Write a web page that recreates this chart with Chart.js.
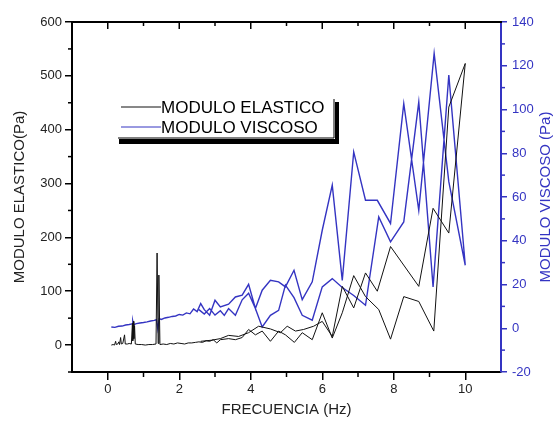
<!DOCTYPE html>
<html>
<head>
<meta charset="utf-8">
<script src="https://cdn.jsdelivr.net/npm/chart.js@4.4.1/dist/chart.umd.min.js"></script>
<style>
  body { margin: 0; background: #fff; }
  #wrap { width: 555px; height: 422px; position: relative; }
</style>
</head>
<body>
<div id="wrap"><canvas id="chart"></canvas></div>
<script>
// ---- data ----
const elasticX = [0.10, 0.15, 0.19, 0.22, 0.24, 0.28, 0.31, 0.33, 0.36, 0.38, 0.42, 0.47, 0.49, 0.55, 0.60, 0.66,
  0.69, 0.70, 0.72, 0.73, 0.75, 0.77, 0.85, 0.95, 1.05, 1.15, 1.25, 1.35, 1.38, 1.41, 1.43, 1.46, 1.55, 1.65,
  1.75, 1.85, 1.95, 2.05, 2.15, 2.25, 2.35, 2.45, 2.55, 2.65, 2.75, 2.85, 2.95, 3.05, 3.15, 3.38, 3.57, 3.76,
  3.94, 4.13, 4.32, 4.55, 4.78, 4.97, 5.22, 5.44, 5.72, 6.00, 6.28, 6.56, 6.88, 7.21, 7.58, 7.91, 8.28, 8.70,
  9.12, 9.54, 10.0,
  9.54, 9.10, 8.70, 7.91, 7.54, 7.21, 6.88, 6.56, 6.28, 6.00, 5.76, 5.48, 5.25, 5.02, 4.83, 4.55, 4.22, 3.94,
  3.66, 3.38, 3.15, 2.90, 2.60];
const elasticY = [0, 1, 0, 7, 1, 2, 6, 1, 14, 2, 3, 19, 2, 2, 3, 2,
  40, 8, 44, 12, 36, 2, 1, 1, 0, 1, 1, 2, 171, 3, 130, 1, 2, 1,
  3, 2, 4, 3, 2, 4, 4, 5, 6, 5, 8, 7, 10, 4, 10, 12, 10, 14,
  29, 19, 26, 7, 26, 19, 5, 23, 10, 60, 13, 60, 129, 90, 66, 11, 90, 81,
  26, 442, 523,
  208, 254, 109, 183, 100, 134, 69, 109, 16, 44, 35, 29, 26, 35, 23, 30, 35, 23,
  16, 18, 12, 9, 7];

const viscoX = [0.10, 0.20, 0.30, 0.40, 0.50, 0.60, 0.68, 0.70, 0.72, 0.80, 0.90, 1.00, 1.10, 1.20, 1.30, 1.36,
  1.40, 1.44, 1.50, 1.60, 1.70, 1.80, 1.90, 2.00, 2.10, 2.20, 2.30, 2.40, 2.50, 2.60, 2.70, 2.85, 3.00, 3.15,
  3.38, 3.57, 3.76, 3.94, 4.13, 4.32, 4.55, 4.78, 4.97, 5.21, 5.44, 5.72, 6.00, 6.28, 6.56, 6.88, 7.21, 7.54,
  7.91, 8.28, 8.70, 9.13, 9.54, 10.0,
  9.54, 9.10, 8.70, 8.28, 7.91, 7.58, 7.21, 6.88, 6.56, 6.28, 6.00, 5.72, 5.44, 5.21, 4.97, 4.78, 4.55, 4.32,
  4.13, 3.94, 3.76, 3.57, 3.38, 3.26, 3.15, 3.00, 2.85, 2.70, 2.55];
const viscoY = [0.6, 0.4, 0.9, 1.0, 1.5, 1.7, 2.0, 3.2, 1.6, 2.1, 2.4, 2.6, 2.9, 3.3, 3.6, 3.9,
  -0.3, 4.4, 4.0, 4.7, 5.0, 5.4, 5.6, 6.3, 6.0, 7.0, 6.6, 8.8, 7.6, 11.3, 8.5, 6.0, 12.8, 9.7,
  11, 14.3, 15.1, 20.1, 9, 17.4, 21.9, 21.2, 18.9, 26.5, 13.1, 21.2, 44.8, 65.4, 21.9, 80.6, 58.5, 58.5,
  47.9, 102.7, 53.9, 125.6, 67, 28.8,
  115.7, 18.9, 103.4, 48.6, 39.5, 50.9, 10.5, 15, 18.6, 22.7, 18.9, 3.7, 5.9, 14, 19.7, 8.2, 5.9, 0.6,
  9, 16, 13, 5.9, 9, 5.9, 8, 6, 9, 6.5, 8.5];

const seriesNames = ['MODULO ELASTICO', 'MODULO VISCOSO'];
const rightTitle = 'MODULO VISCOSO (Pa)';
const xTicks = [0, 2, 4, 6, 8, 10];
const xMinor = [1, 3, 5, 7, 9];
const leftTicks = [0, 100, 200, 300, 400, 500, 600];
const leftMinor = [-50, 50, 150, 250, 350, 450, 550];
const rightTicks = [-20, 0, 20, 40, 60, 80, 100, 120, 140];
const rightMinor = [-10, 10, 30, 50, 70, 90, 110, 130];

const BLUE = '#3434c2';
const FONT = 'Liberation Sans, Arial, sans-serif';

const toPts = (xs, ys) => xs.map((v, i) => ({ x: v, y: ys[i] }));
const setTicks = list => scale => { scale.ticks = list.map(v => ({ value: v })); };

// minor ticks, top axis, right title (reads bottom-up) and the boxed legend
const frame = {
  id: 'frame',
  afterDraw(chart) {
    const { ctx, chartArea: a, scales: { x, y, y2 } } = chart;
    ctx.save();
    ctx.lineCap = 'butt';
    const line = (x1, y1, x2, y2_, col, w) => {
      ctx.strokeStyle = col; ctx.lineWidth = w;
      ctx.beginPath(); ctx.moveTo(x1, y1); ctx.lineTo(x2, y2_); ctx.stroke();
    };
    // top axis
    line(a.left - 1, a.top, a.right + 1, a.top, '#000', 2);
    xTicks.forEach(v => { const p = x.getPixelForValue(v); line(p, a.top, p, a.top + 7, '#000', 1.5); });
    xMinor.forEach(v => { const p = x.getPixelForValue(v); line(p, a.top, p, a.top + 4, '#000', 1.5); });
    // bottom minor
    xMinor.forEach(v => { const p = x.getPixelForValue(v); line(p, a.bottom, p, a.bottom + 5, '#000', 1.5); });
    // left minor
    leftMinor.forEach(v => { const p = y.getPixelForValue(v); line(a.left - 4, p, a.left, p, '#000', 1.5); });
    // right minor
    rightMinor.forEach(v => { const p = y2.getPixelForValue(v); line(a.right, p, a.right + 4, p, BLUE, 1.5); });

    // right axis title
    ctx.save();
    ctx.translate(546, (a.top + a.bottom) / 2);
    ctx.rotate(-Math.PI / 2);
    ctx.font = '15px ' + FONT;
    ctx.fillStyle = BLUE;
    ctx.textAlign = 'center';
    ctx.textBaseline = 'middle';
    ctx.fillText(rightTitle, 0, 0);
    ctx.restore();

    // legend
    const lx = 118, ly = 97, lw = 216, lh = 41;
    ctx.fillStyle = '#fff';
    ctx.fillRect(lx, ly, lw, lh);
    ctx.fillStyle = '#000';
    ctx.fillRect(lx + lw + 1, ly + 5, 4, lh);
    ctx.fillRect(lx + 1, ly + lh + 1, lw + 4, 5);
    line(lx, ly + lh, lx + lw, ly + lh, '#000', 1);
    line(lx + lw, ly + 2, lx + lw, ly + lh, '#000', 1);
    ctx.font = '17px ' + FONT;
    ctx.textBaseline = 'middle';
    chart.data.datasets.forEach((ds, i) => {
      const yy = ly + 10 + i * 20;
      line(lx + 3, yy, lx + 43, yy, ds.borderColor, 1);
      ctx.fillStyle = '#000';
      ctx.fillText(ds.label, lx + 43, yy + 1);
    });
    ctx.restore();
  }
};

new Chart(document.getElementById('chart'), {
  type: 'scatter',
  data: {
    datasets: [
      {
        label: seriesNames[0],
        data: toPts(elasticX, elasticY),
        yAxisID: 'y',
        showLine: true,
        borderColor: '#111',
        borderWidth: 1,
        pointRadius: 0,
        tension: 0
      },
      {
        label: seriesNames[1],
        data: toPts(viscoX, viscoY),
        yAxisID: 'y2',
        showLine: true,
        borderColor: BLUE,
        borderWidth: 1.4,
        pointRadius: 0,
        tension: 0
      }
    ]
  },
  options: {
    responsive: true,
    maintainAspectRatio: false,
    animation: false,
    layout: { padding: { top: 22, left: 0, right: 0, bottom: 0 } },
    plugins: { legend: { display: false }, tooltip: { enabled: false } },
    scales: {
      x: {
        type: 'linear',
        min: -1, max: 11,
        afterBuildTicks: setTicks(xTicks),
        afterFit: s => { s.height = 50; },
        grid: { display: true, drawOnChartArea: false, drawTicks: true, tickLength: 8, color: '#000', lineWidth: 1.5 },
        border: { display: true, color: '#000', width: 2 },
        ticks: { color: '#222', font: { family: FONT, size: 13 }, padding: 2 },
        title: { display: true, text: 'FRECUENCIA (Hz)', color: '#222', font: { family: FONT, size: 15 }, padding: { top: 0, bottom: 3 } }
      },
      y: {
        type: 'linear',
        position: 'left',
        min: -50, max: 600,
        afterBuildTicks: setTicks(leftTicks),
        afterFit: s => { s.width = 72; },
        grid: { display: true, drawOnChartArea: false, drawTicks: true, tickLength: 7, color: '#000', lineWidth: 1.5 },
        border: { display: true, color: '#000', width: 2 },
        ticks: { color: '#222', font: { family: FONT, size: 13 }, padding: 3 },
        title: { display: true, text: 'MODULO ELASTICO(Pa)', color: '#222', font: { family: FONT, size: 15 }, padding: { top: 11, bottom: 0 } }
      },
      y2: {
        type: 'linear',
        position: 'right',
        min: -20, max: 140,
        afterBuildTicks: setTicks(rightTicks),
        afterFit: s => { s.width = 54; },
        grid: { display: true, drawOnChartArea: false, drawTicks: true, tickLength: 6, color: BLUE, lineWidth: 1.5 },
        border: { display: true, color: BLUE, width: 2 },
        ticks: { color: BLUE, font: { family: FONT, size: 13 }, padding: 5 },
        title: { display: false }
      }
    }
  },
  plugins: [frame]
});
</script>
</body>
</html>
